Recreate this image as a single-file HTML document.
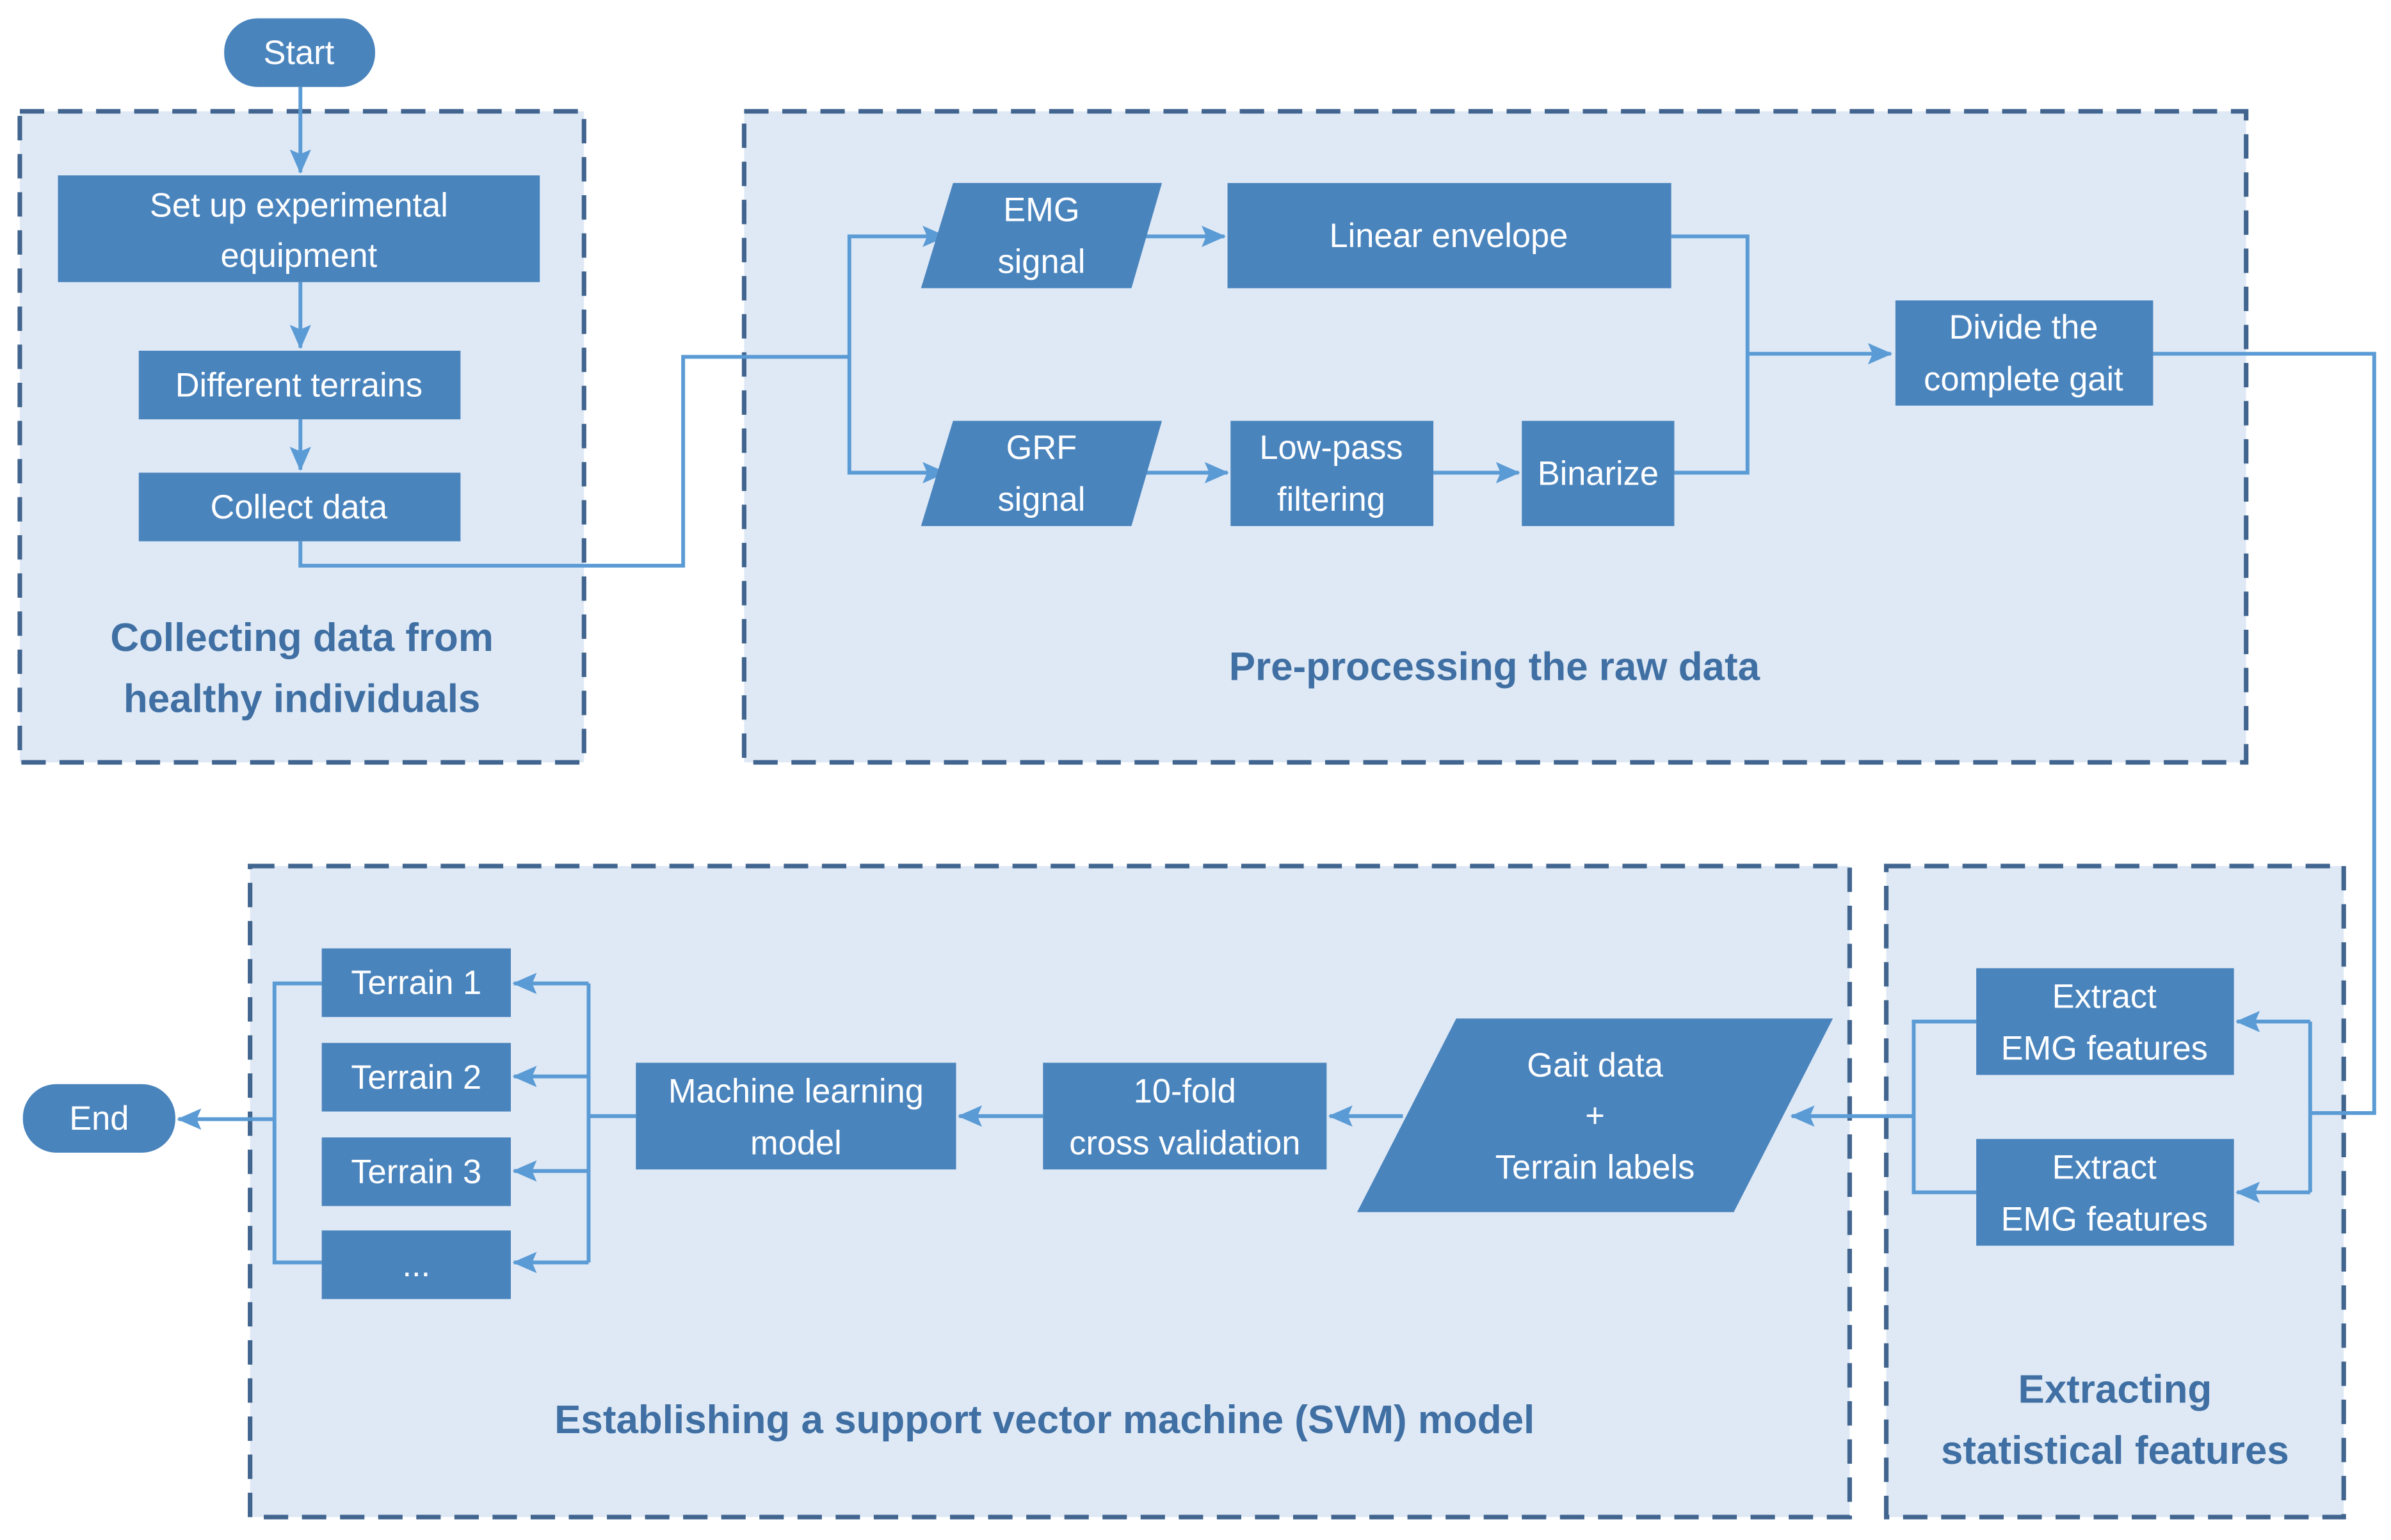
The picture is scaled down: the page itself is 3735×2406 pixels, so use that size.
<!DOCTYPE html>
<html><head><meta charset="utf-8"><style>html,body{margin:0;padding:0;background:#fff}svg{display:block}</style></head><body>
<svg width="3735" height="2406" viewBox="0 0 1568 1010" xmlns="http://www.w3.org/2000/svg" font-family="Liberation Sans, sans-serif">
<defs><marker id="a" markerWidth="16" markerHeight="14" refX="15" refY="7" orient="auto" markerUnits="userSpaceOnUse"><path d="M0,0 L16,7 L0,14 L3,7 z" fill="#5b9bd5"/></marker>
<style>.g{fill:#dfe9f5;stroke:#41658f;stroke-width:3;stroke-dasharray:16,9}.b{fill:#4a84bd}.t{fill:#fff;font-size:22px;text-anchor:middle}.h{fill:#3f6fa3;font-size:26px;font-weight:bold;text-anchor:middle}.l{fill:none;stroke:#5b9bd5;stroke-width:2.5}</style></defs>
<rect class="g" x="13" y="73" width="370" height="427"/>
<rect class="g" x="488" y="73" width="985" height="427"/>
<rect class="g" x="164" y="568" width="1049" height="427"/>
<rect class="g" x="1237" y="568" width="300" height="427"/>
<text class="h" x="198" y="427">Collecting data from</text><text class="h" x="198" y="467">healthy individuals</text>
<text class="h" x="980" y="446">Pre-processing the raw data</text>
<text class="h" x="685" y="940">Establishing a support vector machine (SVM) model</text>
<text class="h" x="1387" y="920">Extracting</text><text class="h" x="1387" y="960">statistical features</text>
<path class="l" d="M197,57V113" marker-end="url(#a)"/>
<path class="l" d="M197,185V228" marker-end="url(#a)"/>
<path class="l" d="M197,275V308" marker-end="url(#a)"/>
<path class="l" d="M197,355V371H448V234H557"/>
<path class="l" d="M557,234V155H620" marker-end="url(#a)"/>
<path class="l" d="M557,234V310H620" marker-end="url(#a)"/>
<path class="l" d="M748,155H803" marker-end="url(#a)"/>
<path class="l" d="M745,310H805" marker-end="url(#a)"/>
<path class="l" d="M940,310H996" marker-end="url(#a)"/>
<path class="l" d="M1096,155H1146V310H1098"/>
<path class="l" d="M1146,232H1240" marker-end="url(#a)"/>
<path class="l" d="M1412,232H1557V730H1515"/>
<path class="l" d="M1515,670V782"/>
<path class="l" d="M1515,670H1467" marker-end="url(#a)"/>
<path class="l" d="M1515,782H1467" marker-end="url(#a)"/>
<path class="l" d="M1296,670H1255V782H1296"/>
<path class="l" d="M1255,732H1175" marker-end="url(#a)"/>
<path class="l" d="M920,732H872" marker-end="url(#a)"/>
<path class="l" d="M684,732H629" marker-end="url(#a)"/>
<path class="l" d="M417,732H386"/>
<path class="l" d="M386,645V828"/>
<path class="l" d="M386,645H337" marker-end="url(#a)"/>
<path class="l" d="M386,706H337" marker-end="url(#a)"/>
<path class="l" d="M386,768H337" marker-end="url(#a)"/>
<path class="l" d="M386,828H337" marker-end="url(#a)"/>
<path class="l" d="M211,645H180V828H211"/>
<path class="l" d="M180,734H117" marker-end="url(#a)"/>
<rect class="b" x="147" y="12" width="99" height="45" rx="22"/><text class="t" x="196" y="42">Start</text>
<rect class="b" x="38" y="115" width="316" height="70"/><text class="t" x="196" y="142">Set up experimental</text><text class="t" x="196" y="175">equipment</text>
<rect class="b" x="91" y="230" width="211" height="45"/><text class="t" x="196" y="260">Different terrains</text>
<rect class="b" x="91" y="310" width="211" height="45"/><text class="t" x="196" y="340">Collect data</text>
<polygon class="b" points="625,120 762,120 742,189 604,189"/><text class="t" x="683" y="145">EMG</text><text class="t" x="683" y="179">signal</text>
<rect class="b" x="805" y="120" width="291" height="69"/><text class="t" x="950" y="162">Linear envelope</text>
<polygon class="b" points="625,276 762,276 742,345 604,345"/><text class="t" x="683" y="301">GRF</text><text class="t" x="683" y="335">signal</text>
<rect class="b" x="807" y="276" width="133" height="69"/><text class="t" x="873" y="301">Low-pass</text><text class="t" x="873" y="335">filtering</text>
<rect class="b" x="998" y="276" width="100" height="69"/><text class="t" x="1048" y="318">Binarize</text>
<rect class="b" x="1243" y="197" width="169" height="69"/><text class="t" x="1327" y="222">Divide the</text><text class="t" x="1327" y="256">complete gait</text>
<rect class="b" x="1296" y="635" width="169" height="70"/><text class="t" x="1380" y="661">Extract</text><text class="t" x="1380" y="695">EMG features</text>
<rect class="b" x="1296" y="747" width="169" height="70"/><text class="t" x="1380" y="773">Extract</text><text class="t" x="1380" y="807">EMG features</text>
<polygon class="b" points="955,668 1202,668 1137,795 890,795"/><text class="t" x="1046" y="706">Gait data</text><text class="t" x="1046" y="739">+</text><text class="t" x="1046" y="773">Terrain labels</text>
<rect class="b" x="684" y="697" width="186" height="70"/><text class="t" x="777" y="723">10-fold</text><text class="t" x="777" y="757">cross validation</text>
<rect class="b" x="417" y="697" width="210" height="70"/><text class="t" x="522" y="723">Machine learning</text><text class="t" x="522" y="757">model</text>
<rect class="b" x="211" y="622" width="124" height="45"/><text class="t" x="273" y="652">Terrain 1</text>
<rect class="b" x="211" y="684" width="124" height="45"/><text class="t" x="273" y="714">Terrain 2</text>
<rect class="b" x="211" y="746" width="124" height="45"/><text class="t" x="273" y="776">Terrain 3</text>
<rect class="b" x="211" y="807" width="124" height="45"/><text class="t" x="273" y="837">...</text>
<rect class="b" x="15" y="711" width="100" height="45" rx="22"/><text class="t" x="65" y="741">End</text>
</svg>
</body></html>
